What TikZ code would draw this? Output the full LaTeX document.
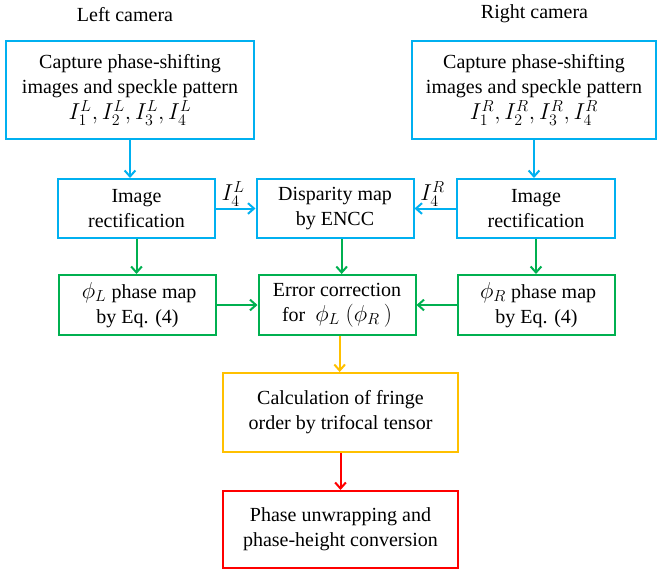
\documentclass[tikz,border=0pt]{standalone}
\usepackage{fontspec}
\setmainfont{Liberation Serif}
\usepackage{tikz}
\usetikzlibrary{positioning,arrows.meta}
\definecolor{camblue}{RGB}{0,176,240}
\definecolor{camgreen}{RGB}{0,176,80}
\definecolor{camyellow}{RGB}{255,192,0}
\definecolor{camred}{RGB}{255,0,0}
\newcommand{\mth}[1]{{\fontsize{17}{20}\selectfont$#1$}}
\tikzstyle{stage} = [line width=1.5pt, align=center, inner sep=0pt,
    font=\fontsize{15}{18.75}\selectfont]
\tikzstyle{flow} = [line width=1.5pt, -{Straight Barb[length=4.5pt,width=8pt]}]
\tikzstyle{tag} = [font=\fontsize{15}{18.75}\selectfont]
\tikzstyle{imglabel} = [above, inner sep=1pt, xshift=-2pt, font=\fontsize{18}{21}\selectfont]

\begin{document}
\begin{tikzpicture}[x=0.75pt, y=-0.75pt]
    \useasboundingbox (0,0) rectangle (658,572);
    \node[tag] (left) at (125, 15) {Left camera};
    \node[tag] (right) at (534.5, 14) {Right camera};
    \node[stage, draw=camblue, minimum width=248*0.75pt, minimum height=98*0.75pt] (capL) at (130, 90)
        {Capture phase-shifting\\images and speckle pattern\\[1pt]\mth{I_1^L,I_2^L,I_3^L,I_4^L}};
    \node[stage, draw=camblue, minimum width=244*0.75pt, minimum height=98*0.75pt] (capR) at (534, 90)
        {Capture phase-shifting\\images and speckle pattern\\[1pt]\mth{I_1^R,I_2^R,I_3^R,I_4^R}};
    \node[stage, draw=camblue, minimum width=157*0.75pt, minimum height=59*0.75pt] (rectL) at (136.5, 208.5)
        {Image\\rectification};
    \node[stage, draw=camblue, minimum width=157*0.75pt, minimum height=59*0.75pt] (disp) at (335, 208.5)
        {Disparity map\\by ENCC};
    \node[stage, draw=camblue, minimum width=158*0.75pt, minimum height=59*0.75pt] (rectR) at (536, 208.5)
        {Image\\rectification};
    \node[stage, draw=camgreen, minimum width=157*0.75pt, minimum height=60*0.75pt] (phiL) at (137.5, 305)
        {\,\mth{\phi_L} phase map\\by Eq. (4)};
    \node[stage, draw=camgreen, minimum width=157*0.75pt, minimum height=60*0.75pt] (err) at (337, 305)
        {Error correction\\for \ \mth{\phi_L\ (\phi_R\,)}};
    \node[stage, draw=camgreen, minimum width=157*0.75pt, minimum height=60*0.75pt] (phiR) at (536.5, 305)
        {\,\mth{\phi_R} phase map\\by Eq. (4)};
    \node[stage, draw=camyellow, minimum width=235*0.75pt, minimum height=79*0.75pt] (calc) at (340.5, 412.5)
        {Calculation of fringe\\order by trifocal tensor};
    \node[stage, draw=camred, minimum width=235*0.75pt, minimum height=77*0.75pt] (unwrap) at (340.5, 529.5)
        {Phase unwrapping and\\phase-height conversion};
    % left and right cameras
    \draw[flow, camblue] (capL.south) -- (capL.south |- rectL.north);
    \draw[flow, camblue] (capR.south) -- (capR.south |- rectR.north);
    \draw[flow, camblue] (rectL) edge node[imglabel, text=black] {$I_4^L$} (disp);
    \draw[flow, camblue] (rectR) edge node[imglabel, text=black] {$I_4^R$} (disp);
    % phase maps
    \draw[flow, camgreen] (rectL.south) -- (rectL.south |- phiL.north);
    \draw[flow, camgreen] (rectR.south) -- (rectR.south |- phiR.north);
    \draw[flow, camgreen] ([xshift=5pt]disp.south) -- ([xshift=5pt]disp.south |- err.north);
    \draw[flow, camgreen] (phiL) -- (err);
    \draw[flow, camgreen] (phiR) -- (err);
    % fringe order
    \draw[flow, camyellow] ([xshift=2pt]err.south) -- ([xshift=2pt]err.south |- calc.north);
    \draw[flow, camred] (calc) -- (unwrap);
\end{tikzpicture}
\end{document}
